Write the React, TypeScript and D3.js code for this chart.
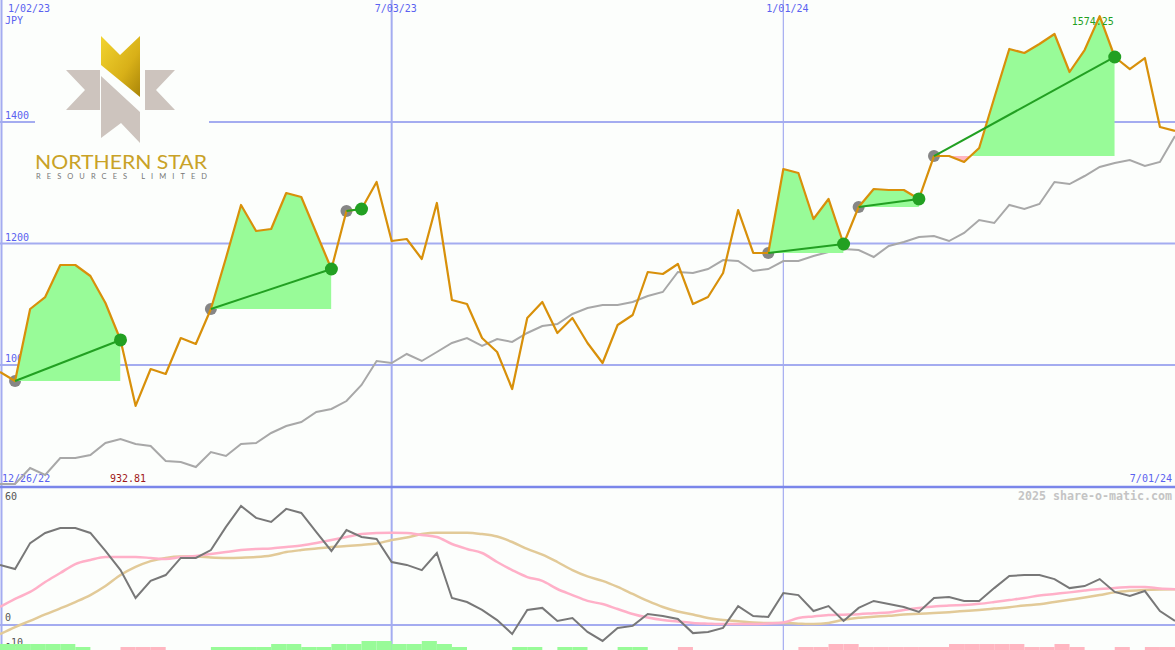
import { useEffect, useRef } from 'react'
import * as d3 from 'd3'

const W = 1175
const H = 650

// weekly closes in JPY, Mondays 1/02/23 .. 7/01/24
const price = [
  988.5, 973.7, 1092.2, 1111.9, 1164.6, 1164.6, 1146.5, 1102.1, 1041.2, 932.81,
  993.4, 985.2, 1044.4, 1034.6, 1092.2, 1176.1, 1263.4, 1220.6, 1223.9, 1283.1,
  1276.5, 1217.3, 1158.0, 1253.5, 1256.8, 1301.2, 1204.1, 1207.4, 1174.5, 1266.7,
  1107.0, 1100.4, 1044.4, 1021.4, 960.5, 1077.4, 1103.7, 1052.7, 1077.4, 1036.2,
  1003.3, 1065.8, 1082.3, 1153.1, 1149.8, 1166.3, 1100.4, 1111.9, 1151.4, 1255.1,
  1184.4, 1184.4, 1322.6, 1316.0, 1240.3, 1273.3, 1199.2, 1260.1, 1289.7, 1288.1,
  1288.1, 1273.3, 1344.0, 1344.0, 1334.2, 1357.2, 1439.5, 1520.2, 1513.6, 1528.4,
  1544.9, 1482.3, 1518.5, 1574.25, 1507.0, 1487.2, 1505.3, 1391.8, 1385.2,
]

// market comparison line, plotted on the price axis
const relative = [
  804.1, 804.1, 830.5, 819.0, 846.9, 846.9, 851.9, 871.6, 878.2, 870.0,
  866.7, 842.0, 840.3, 832.1, 856.8, 850.2, 870.0, 871.6, 888.1, 899.6,
  906.2, 922.6, 927.6, 940.7, 967.1, 1006.6, 1003.3, 1018.1, 1006.6, 1021.4,
  1036.2, 1044.4, 1031.3, 1042.8, 1037.9, 1052.7, 1064.2, 1067.5, 1084.0, 1093.8,
  1098.8, 1098.8, 1103.7, 1113.6, 1120.2, 1153.1, 1151.4, 1158.0, 1172.8, 1171.2,
  1154.7, 1158.0, 1171.2, 1171.2, 1179.4, 1186.0, 1190.9, 1189.3, 1177.8, 1195.9,
  1202.5, 1210.7, 1212.3, 1204.1, 1217.3, 1238.7, 1233.7, 1263.4, 1256.8, 1265.0,
  1301.2, 1297.9, 1311.1, 1325.9, 1332.5, 1337.4, 1327.6, 1334.2, 1377.0,
]

// lower panel
const osc = [
  26.7, 24.9, 36.4, 40.9, 43.1, 43.1, 40.9, 32.9, 24.4, 12.0,
  19.6, 22.2, 29.8, 29.8, 33.3, 43.6, 52.9, 47.6, 45.8, 51.6,
  49.8, 41.3, 32.9, 42.2, 39.1, 38.2, 28.0, 26.7, 24.4, 32.0,
  12.0, 10.2, 6.7, 2.2, -4.0, 6.7, 7.6, 1.8, 3.1, -3.1,
  -7.1, -1.3, -0.4, 4.9, 4.0, 2.7, -3.6, -3.1, -1.3, 8.4,
  4.0, 3.6, 14.2, 13.3, 6.2, 8.4, 1.8, 7.6, 10.7, 9.3,
  8.0, 5.8, 12.0, 12.4, 10.7, 10.7, 16.4, 21.8, 22.2, 22.2,
  20.4, 16.4, 17.3, 20.4, 14.7, 12.9, 15.1, 6.2, 1.8,
]
const oscFast = [
  8.0, 11.6, 14.7, 19.1, 23.1, 27.1, 28.9, 30.2, 30.2, 30.2,
  29.8, 29.3, 30.2, 30.7, 31.6, 32.4, 33.3, 33.8, 34.0, 34.7,
  35.3, 36.4, 37.8, 39.1, 40.4, 40.9, 41.0, 40.9, 40.0, 39.1,
  36.0, 33.8, 32.0, 28.0, 24.4, 21.3, 19.6, 16.0, 13.3, 10.7,
  9.3, 7.1, 4.9, 3.3, 2.2, 1.6, 0.9, 0.6, 0.4, 0.4,
  0.4, 0.7, 1.1, 3.1, 3.8, 4.4, 4.6, 4.8, 5.2, 5.6,
  6.7, 7.6, 8.2, 8.7, 8.9, 9.4, 10.2, 11.1, 12.0, 13.1,
  13.8, 14.5, 15.3, 16.0, 16.4, 16.9, 16.9, 16.2, 15.9,
]
const oscSlow = [
  -4.1, -0.9, 1.8, 4.7, 7.4, 10.2, 13.3, 17.3, 22.2, 25.8,
  28.4, 29.8, 30.4, 30.4, 30.0, 29.8, 29.9, 30.2, 30.9, 32.4,
  33.3, 34.0, 34.7, 35.1, 35.6, 36.2, 37.8, 38.9, 40.4, 41.0,
  41.0, 41.0, 40.4, 39.3, 36.9, 33.8, 31.3, 28.0, 24.4, 21.6,
  19.6, 16.9, 13.8, 10.7, 8.0, 6.0, 4.7, 3.1, 2.2, 1.7,
  1.1, 0.9, 0.9, 0.6, 0.4, 0.9, 2.3, 3.2, 3.7, 4.1,
  4.7, 5.0, 5.3, 5.7, 6.2, 6.7, 7.3, 7.9, 8.7, 9.2,
  10.2, 11.2, 12.2, 13.3, 14.5, 15.2, 15.6, 15.8, 15.9,
]
// weekly bars along the bottom: + green, - pink
const histogram = [
  2, 2, 2, 2, 2, 1, 0, 0, -1, -1, -1, 0, 0, 0, 1, 1, 1, 1, 2, 2,
  1, 1, 2, 2, 3, 3, 2, 2, 3, 2, 1, 0, 0, 0, 1, 1, 0, 1, 1, 0,
  0, 1, 1, 0, 0, -1, 0, 0, 0, 0, 0, 0, 0, -1, -1, -2, -2, -1, -1, -1,
  -1, -1, -1, -2, -2, -2, -2, -2, -1, -1, -2, -1, 0, 0, -1, 0, -1, -1,
]

// entry / exit week indices
const tradeEntry = [1, 14, 23, 51, 57, 62]
const tradeExit = [8, 22, 24, 56, 61, 74]

const priceTicks = [1000, 1200, 1400]
const dateTicks = ['2023-01-02', '2023-07-03', '2024-01-01']
const dateLabels = ['1/02/23', '7/03/23', '1/01/24']
const oscTicks = [60, 0, -10]

const colors = {
  bg: '#fcfefc',
  grid: '#a4acf0',
  border: '#7a86ea',
  label: '#5a62f0',
  price: '#d8900a',
  relative: '#a8a8a8',
  gain: '#98fb98',
  loss: '#ffb6c1',
  trade: '#22a022',
  entry: '#868686',
  osc: '#787878',
  oscFast: '#ffb0c8',
  oscSlow: '#e2ca98',
}
const mono = '"DejaVu Sans Mono", monospace'

export default function App() {
  const ref = useRef<SVGSVGElement>(null)

  useEffect(() => {
    if (!ref.current) return
    const svg = d3.select(ref.current)
    svg.selectAll('*').remove()

    const start = new Date(Date.UTC(2023, 0, 2))
    const weeks = d3.utcMonday.range(start, new Date(Date.UTC(2024, 6, 2)))
    const x = d3.scaleUtc().domain([start, new Date(Date.UTC(2024, 6, 1))]).range([0, W])
    const y = d3.scaleLinear().domain([1000, 1400]).range([365, 122])
    const yo = d3.scaleLinear().domain([-10, 60]).range([647.5, 490])
    const yh = d3.scaleLinear().domain([0, 3]).range([650, 641])
    const xi = (i: number) => x(weeks[i])

    svg.append('rect').attr('width', W).attr('height', H).attr('fill', colors.bg)

    // grid
    svg.selectAll('.hgrid')
      .data(priceTicks)
      .join('line')
      .attr('x1', 0).attr('x2', W)
      .attr('y1', (d) => y(d)).attr('y2', (d) => y(d))
      .attr('stroke', colors.grid).attr('stroke-width', 2)
    svg.append('line')
      .attr('x1', 0).attr('x2', W)
      .attr('y1', yo(0)).attr('y2', yo(0))
      .attr('stroke', colors.grid).attr('stroke-width', 2)
    svg.selectAll('.vgrid')
      .data(dateTicks)
      .join('line')
      .attr('x1', (d) => Math.max(1.5, x(new Date(d + 'T00:00:00Z'))))
      .attr('x2', (d) => Math.max(1.5, x(new Date(d + 'T00:00:00Z'))))
      .attr('y1', 0).attr('y2', H)
      .attr('stroke', colors.grid)
      .attr('stroke-width', (_, i) => (i === 2 ? 1.2 : 2))
    svg.append('line')
      .attr('x1', 0).attr('x2', W).attr('y1', 487).attr('y2', 487)
      .attr('stroke', colors.border).attr('stroke-width', 2.5)

    // axis labels
    const g = svg.append('g').style('font-family', mono).attr('font-size', 10)
    g.selectAll('.plab')
      .data(priceTicks)
      .join('text')
      .attr('x', 5).attr('y', (d) => y(d) - 3)
      .attr('fill', colors.label)
      .text((d) => d)
    g.selectAll('.dlab')
      .data(dateTicks)
      .join('text')
      .attr('x', (d) => Math.max(8, x(new Date(d + 'T00:00:00Z')) - 17))
      .attr('y', 12)
      .attr('fill', colors.label)
      .text((_, i) => dateLabels[i])
    g.append('text').attr('x', 5).attr('y', 24).attr('fill', colors.label).text('JPY')
    g.append('text').attr('x', 2).attr('y', 482).attr('fill', colors.label).text('12/26/22')
    g.append('text').attr('x', 1172).attr('y', 482).attr('text-anchor', 'end').attr('fill', colors.label).text('7/01/24')
    g.selectAll('.olab')
      .data(oscTicks)
      .join('text')
      .attr('x', 5)
      .attr('y', (d) => (d === 60 ? 500 : d === 0 ? 621 : 646))
      .attr('fill', '#555')
      .text((d) => d)
    g.append('text')
      .attr('x', 1018).attr('y', 500)
      .attr('font-size', 11.5).attr('font-weight', 'bold')
      .attr('fill', '#c4c4c4')
      .attr('textLength', 154).attr('lengthAdjust', 'spacingAndGlyphs')
      .text('2025 share-o-matic.com')

    // logo
    const logo = svg.append('g')
    logo.append('rect').attr('x', 35).attr('y', 28).attr('width', 174).attr('height', 156).attr('fill', colors.bg)
    const defs = svg.append('defs')
    const grad = defs.append('linearGradient').attr('id', 'gold').attr('x1', 0).attr('y1', 0).attr('x2', 1).attr('y2', 1)
    grad.append('stop').attr('offset', '0%').attr('stop-color', '#f2d430')
    grad.append('stop').attr('offset', '60%').attr('stop-color', '#d8b018')
    grad.append('stop').attr('offset', '100%').attr('stop-color', '#a88408')
    const shapes: [number, number][][] = [
      [[66, 70], [100, 70], [100, 110], [66, 110], [85, 90]],
      [[175, 70], [145, 70], [145, 110], [175, 110], [156, 90]],
      [[101, 76], [140, 112], [140, 143], [121, 123], [101, 138]],
    ]
    logo.selectAll('.gray')
      .data(shapes)
      .join('polygon')
      .attr('points', (d) => d.map((p) => p.join(',')).join(' '))
      .attr('fill', '#cdc4be')
    logo.append('polygon')
      .attr('points', '101,36 120,55 140,36 140,97 101,65')
      .attr('fill', 'url(#gold)')
    logo.append('text')
      .attr('x', 35).attr('y', 169)
      .attr('font-family', 'Lato, "Noto Sans", sans-serif').attr('font-size', 19)
      .attr('fill', '#c9a227')
      .attr('textLength', 172).attr('lengthAdjust', 'spacingAndGlyphs')
      .text('NORTHERN STAR')
    logo.append('text')
      .attr('x', 36).attr('y', 178.5)
      .attr('font-family', 'Lato, "Noto Sans", sans-serif').attr('font-size', 7.5)
      .attr('fill', '#777')
      .attr('textLength', 171).attr('lengthAdjust', 'spacing')
      .text('RESOURCES LIMITED')

    // relative line
    const line = d3.line<number>().x((_, i) => xi(i)).y((d) => y(d))
    svg.append('path')
      .attr('d', line(relative))
      .attr('fill', 'none').attr('stroke', colors.relative).attr('stroke-width', 2)

    // entry dots
    svg.selectAll('.entry')
      .data(tradeEntry)
      .join('circle')
      .attr('cx', (d) => xi(d)).attr('cy', (d) => y(price[d]))
      .attr('r', 6).attr('fill', colors.entry)

    // trade fills: gain above entry level, loss below
    tradeEntry.forEach((e, k) => {
      const ex = tradeExit[k]
      const base = y(price[e])
      const idx = d3.range(e, ex + 1)
      const area = d3.area<number>()
        .x((i) => xi(i))
        .y0(base)
        .y1((i) => y(price[i]))
      const x0 = xi(e)
      const x1 = xi(ex)
      defs.append('clipPath').attr('id', `up${k}`)
        .append('rect').attr('x', x0).attr('y', 0).attr('width', x1 - x0).attr('height', base)
      defs.append('clipPath').attr('id', `dn${k}`)
        .append('rect').attr('x', x0).attr('y', base).attr('width', x1 - x0).attr('height', H - base)
      svg.append('path').attr('d', area(idx)).attr('fill', colors.gain).attr('clip-path', `url(#up${k})`)
      svg.append('path').attr('d', area(idx)).attr('fill', colors.loss).attr('clip-path', `url(#dn${k})`)
    })

    // price line
    svg.append('path')
      .attr('d', line(price))
      .attr('fill', 'none').attr('stroke', colors.price).attr('stroke-width', 2.2)
      .attr('stroke-linejoin', 'round')

    // trade lines + exit dots
    svg.selectAll('.tline')
      .data(tradeEntry)
      .join('line')
      .attr('x1', (d) => xi(d)).attr('y1', (d) => y(price[d]))
      .attr('x2', (_, k) => xi(tradeExit[k])).attr('y2', (_, k) => y(price[tradeExit[k]]))
      .attr('stroke', colors.trade).attr('stroke-width', 2)
    svg.selectAll('.exit')
      .data(tradeExit)
      .join('circle')
      .attr('cx', (d) => xi(d)).attr('cy', (d) => y(price[d]))
      .attr('r', 6.5).attr('fill', colors.trade)

    // high / low annotations
    const hi = d3.maxIndex(price)
    const lo = d3.minIndex(price)
    svg.append('text')
      .attr('x', xi(hi) - 28).attr('y', 25)
      .attr('font-family', mono).attr('font-size', 10)
      .attr('fill', colors.trade)
      .text(price[hi].toFixed(2))
    svg.append('text')
      .attr('x', 110).attr('y', 482)
      .attr('font-family', mono).attr('font-size', 10)
      .attr('fill', '#a01818')
      .text(price[lo].toFixed(2))

    // lower panel
    svg.selectAll('.hbar')
      .data(histogram)
      .join('rect')
      .attr('x', (_, i) => xi(i))
      .attr('width', (_, i) => xi(i + 1) - xi(i))
      .attr('y', (d) => yh(Math.abs(d)))
      .attr('height', (d) => 650 - yh(Math.abs(d)))
      .attr('fill', (d) => (d > 0 ? colors.gain : colors.loss))
    const oline = d3.line<number>().x((_, i) => xi(i)).y((d) => yo(d))
    const smooth = d3.line<number>().x((_, i) => xi(i)).y((d) => yo(d)).curve(d3.curveMonotoneX)
    svg.append('path').attr('d', smooth(oscSlow)).attr('fill', 'none').attr('stroke', colors.oscSlow).attr('stroke-width', 2.5)
    svg.append('path').attr('d', smooth(oscFast)).attr('fill', 'none').attr('stroke', colors.oscFast).attr('stroke-width', 2.5)
    svg.append('path').attr('d', oline(osc)).attr('fill', 'none').attr('stroke', colors.osc).attr('stroke-width', 2)
  }, [])

  return (
    <div style={{ position: 'fixed', left: 0, top: 0 }}>
      <svg ref={ref} width={W} height={H} style={{ display: 'block' }} />
    </div>
  )
}
